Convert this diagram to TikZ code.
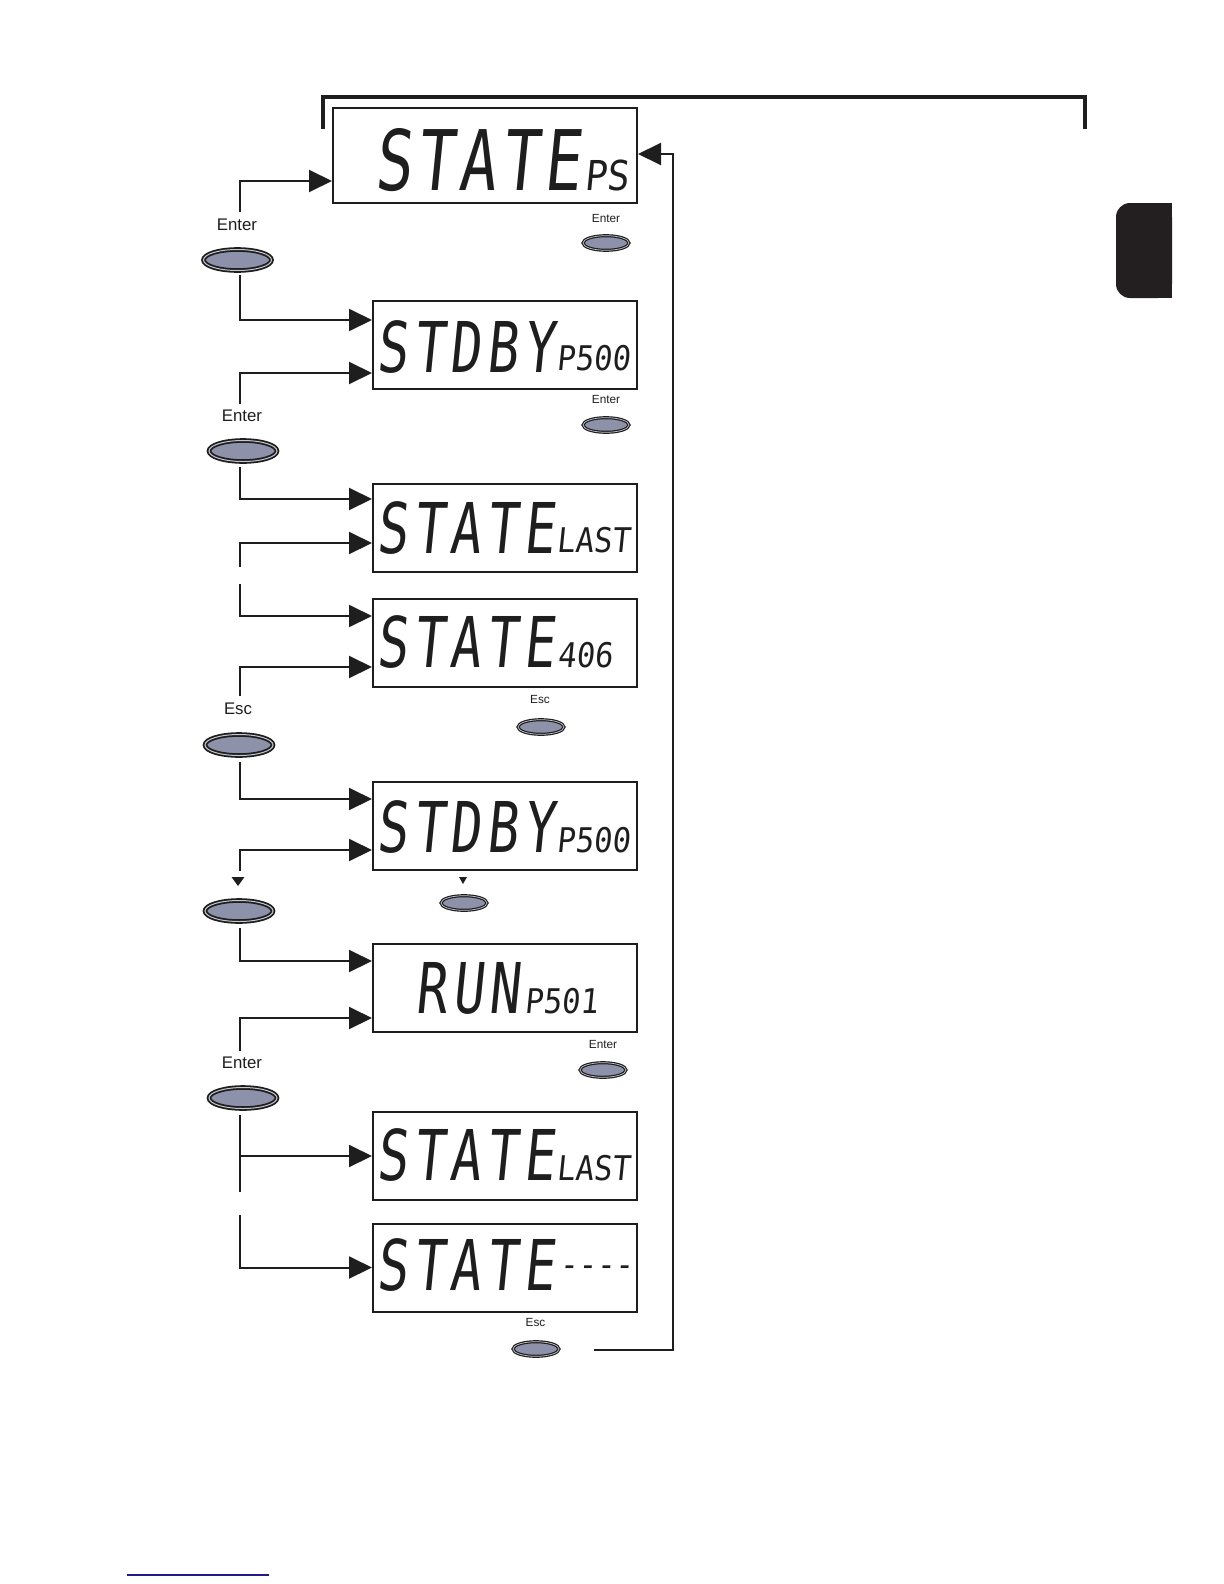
\documentclass[tikz,border=0pt]{standalone}
\usepackage{fontspec}
\setmainfont{Liberation Sans}
\newfontfamily\lcdbigA[FakeStretch=0.74,FakeSlant=0.1,LetterSpace=6]{DejaVu Sans Mono}
\newfontfamily\lcdbigB[FakeStretch=0.74,FakeSlant=0.1,LetterSpace=8]{DejaVu Sans Mono}
\newfontfamily\lcdsmall[FakeStretch=0.9,FakeSlant=0.1]{DejaVu Sans Mono}
\usetikzlibrary{arrows.meta,shapes.geometric,calc}
\definecolor{btnfill}{HTML}{8D91A9}
\definecolor{btnring}{HTML}{C4C6D0}
\definecolor{ink}{HTML}{1E1E1E}
\definecolor{tabcol}{HTML}{231F20}
\definecolor{linkblue}{HTML}{1C1C8C}
\newcommand\lcdhuge{\lcdbigA\fontsize{41.8}{42}\selectfont}
\newcommand\lcdmain{\lcdbigB\fontsize{35}{36}\selectfont}
\newcommand\lcdsub{\lcdsmall\fontsize{20.6}{21}\selectfont}
\newcommand\lcdtiny{\lcdsmall\fontsize{17}{18}\selectfont}
\tikzset{
  lcdbox/.style={draw=ink,line width=1pt,inner sep=0pt,minimum width=132pt,minimum height=44pt},
  conn/.style={draw=ink,line width=1pt,-{Triangle[length=11.5pt,width=11pt]}},
  plainline/.style={draw=ink,line width=1pt},
  bigbtn/.style={ellipse,draw=ink,line width=0.9pt,double=btnring,double distance=0.5pt,fill=btnfill,inner sep=0pt,minimum width=34pt,minimum height=10.5pt},
  smallbtn/.style={ellipse,draw=ink,line width=0.6pt,double=btnring,double distance=0.35pt,fill=btnfill,inner sep=0pt,minimum width=23pt,minimum height=7.3pt},
  biglabel/.style={font=\fontsize{8.4}{10}\selectfont,text=ink,inner sep=0pt,anchor=base},
  smalllabel/.style={font=\fontsize{5.9}{7}\selectfont,text=ink,inner sep=0pt,anchor=base},
  lcdtxt/.style={text=ink,inner sep=0pt,anchor=base west},
  downmark/.style={fill=ink}
}
\begin{document}
\begin{tikzpicture}[x=0.5pt,y=-0.5pt]
\useasboundingbox (0,0) rectangle (1224,1584);
% top bracket
\draw[ink,line width=2pt] (323,129) -- (323,97.5) -- (1085,97.5) -- (1085,129);
% tab
\fill[tabcol,rounded corners=7pt] (1172,203) -- (1116,203) -- (1116,298) -- (1172,298) -- cycle;
\fill[tabcol] (1145,203) rectangle (1172,298);
% blue line
\draw[linkblue,line width=0.7pt] (127,1575) -- (269,1575);
% display boxes
\node[lcdbox,minimum width=152pt,minimum height=47.5pt] (d1) at (485,155.5) {};
\node[lcdbox] (d2) at (505,344.5) {};
\node[lcdbox] (d3) at (505,528) {};
\node[lcdbox] (d4) at (505,643) {};
\node[lcdbox] (d5) at (505,825.5) {};
\node[lcdbox] (d6) at (505,988) {};
\node[lcdbox] (d7) at (505,1156) {};
\node[lcdbox] (d8) at (505,1267.5) {};
% display texts
\node[lcdtxt,font=\lcdhuge] (t1) at (374,190) {STATE};
\node[lcdtxt,font=\lcdsub] (u1) at (584,190) {PS};
\node[lcdtxt,font=\lcdmain] (t2) at (376,372) {STDBY};
\node[lcdtxt,font=\lcdtiny] (u2) at (556,370) {P500};
\node[lcdtxt,font=\lcdmain] (t3) at (376,553) {STATE};
\node[lcdtxt,font=\lcdtiny] (u3) at (556,552) {LAST};
\node[lcdtxt,font=\lcdmain] (t4) at (376,667) {STATE};
\node[lcdtxt,font=\lcdtiny] (u4) at (557,667) {406};
\node[lcdtxt,font=\lcdmain] (t5) at (376,852) {STDBY};
\node[lcdtxt,font=\lcdtiny] (u5) at (556,852) {P500};
\node[lcdtxt,font=\lcdmain] (t6) at (415,1013) {RUN};
\node[lcdtxt,font=\lcdtiny] (u6) at (524,1013) {P501};
\node[lcdtxt,font=\lcdmain] (t7) at (376,1180) {STATE};
\node[lcdtxt,font=\lcdtiny] (u7) at (556,1180) {LAST};
\node[lcdtxt,font=\lcdmain] (t8) at (376,1290) {STATE};
\node[lcdtxt,font=\lcdtiny] (u8) at (559,1276) {----};
% big buttons
\node[bigbtn] (b1) at (237.5,260) {};
\node[bigbtn] (b2) at (243,451) {};
\node[bigbtn] (b3) at (239,745) {};
\node[bigbtn] (b4) at (239,911) {};
\node[bigbtn] (b5) at (243,1098) {};
% small buttons
\node[smallbtn] (s1) at (606,243) {};
\node[smallbtn] (s2) at (606,425) {};
\node[smallbtn] (s3) at (541,727) {};
\node[smallbtn] (s4) at (464,903) {};
\node[smallbtn] (s5) at (603,1070) {};
\node[smallbtn] (s6) at (536,1349) {};
% labels
\node[biglabel] (l1) at (237,230) {Enter};
\node[biglabel] (l2) at (242,421) {Enter};
\node[biglabel] (l3) at (238,714) {Esc};
\node[biglabel] (l5) at (242,1068) {Enter};
\node[smalllabel] (m1) at (606,222) {Enter};
\node[smalllabel] (m2) at (606,403) {Enter};
\node[smalllabel] (m3) at (540,703) {Esc};
\node[smalllabel] (m5) at (603,1048) {Enter};
\node[smalllabel] (m6) at (535.5,1326) {Esc};
% down marks
\fill[downmark] (231.5,877) -- (244.5,877) -- (238,886) -- cycle;
\fill[downmark] (459,877) -- (467,877) -- (463,884) -- cycle;
% connectors
\coordinate (c1) at (240,212);
\draw[conn] (c1) |- ($(d1.west)+(0,25.5)$);
\coordinate (c2) at (240,275);
\draw[conn] (c2) |- ($(d2.west)+(0,-24.5)$);
\coordinate (c3) at (240,404);
\draw[conn] (c3) |- ($(d2.west)+(0,28.5)$);
\coordinate (c4) at (240,467);
\draw[conn] (c4) |- ($(d3.west)+(0,-29)$);
\coordinate (c5) at (240,567);
\draw[conn] (c5) |- ($(d3.west)+(0,15)$);
\coordinate (c6) at (240,584);
\draw[conn] (c6) |- ($(d4.west)+(0,-27)$);
\coordinate (c7) at (240,696);
\draw[conn] (c7) |- ($(d4.west)+(0,24)$);
\coordinate (c8) at (240,762);
\draw[conn] (c8) |- ($(d5.west)+(0,-26.5)$);
\coordinate (c9) at (240,871);
\draw[conn] (c9) |- ($(d5.west)+(0,24.5)$);
\coordinate (c10) at (240,928);
\draw[conn] (c10) |- ($(d6.west)+(0,-27)$);
\coordinate (c11) at (240,1051);
\draw[conn] (c11) |- ($(d6.west)+(0,30)$);
\coordinate (c12) at (240,1115);
\coordinate (c12e) at (240,1192);
\draw[plainline] (c12) -- (c12e);
\draw[conn] (c12 |- d7.west) -- (d7.west);
\coordinate (c13) at (240,1215);
\draw[conn] (c13) |- (d8.west);
\coordinate (c14) at (594,1350);
\coordinate (r1) at (673,1350);
\draw[conn] (c14) -- (r1) |- ($(d1.east)+(0,-1.5)$);
\end{tikzpicture}
\end{document}
